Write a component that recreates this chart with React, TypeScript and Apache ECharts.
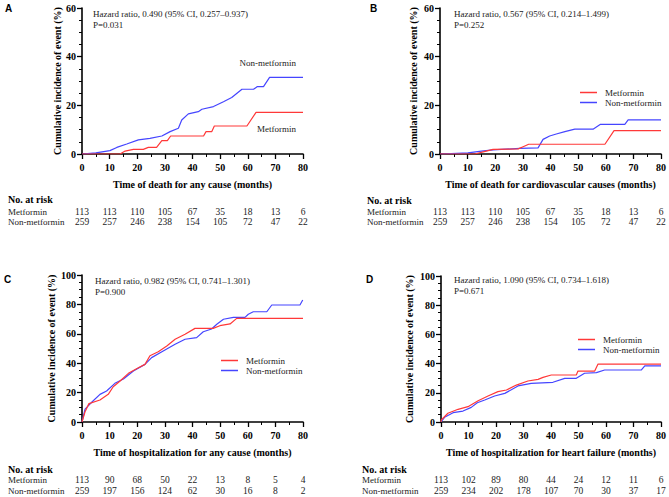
import React, { useEffect, useRef } from "react";
import * as echarts from "echarts";

// ---------- data ----------
const timeTicks = [0, 10, 20, 30, 40, 50, 60, 70, 80];

// Panel A: death for any cause
const aMetformin: [number, number][] = [
  [0, 0], [13.8, 0], [15.6, 1.2], [18.6, 1.9], [22.2, 1.9], [24, 2.7], [27, 2.7], [28.9, 5.5], [30.9, 5.5],
  [32.1, 7.4], [44, 7.4], [44.9, 9.2], [47, 9.2], [47.9, 11.5], [59.7, 11.5], [63, 17.1], [80, 17.1],
];
const aNonMetformin: [number, number][] = [
  [0, 0], [5, 0.5], [10.1, 1.4], [12.6, 2.7], [16.2, 4.1], [20.4, 5.8], [24.6, 6.4], [28.9, 7.4], [31.9, 9.2],
  [34.9, 10.6], [36.1, 14], [38.5, 16.5], [42.1, 17.4], [43.4, 18.4], [47.6, 19.5], [51.2, 21.5], [54.2, 23.2],
  [57.9, 26.6], [62.1, 26.6], [63.5, 27.7], [65.7, 27.7], [67.9, 31.5], [80, 31.5],
];
// Panel B: death for cardiovascular causes
const bMetformin: [number, number][] = [
  [0, 0], [12.6, 0], [16, 1], [19.2, 1.9], [28.3, 2.1], [30.1, 3], [32.1, 4], [59.7, 4], [63, 9.6], [80, 9.6],
];
const bNonMetformin: [number, number][] = [
  [0, 0], [10.1, 0.5], [15, 1.2], [19.2, 1.7], [28.9, 2.3], [35.5, 2.5], [37.3, 6], [39.7, 7.4], [42.1, 8.2],
  [45.2, 9.2], [48.8, 10.2], [55.4, 10.2], [58.1, 12.2], [66.9, 12.2], [68.1, 14], [80, 14],
];
// Panel C: hospitalization for any cause
const cMetformin: [number, number][] = [
  [0, 0], [1.1, 7], [2.5, 12.5], [6.5, 15], [9.5, 18.8], [11.3, 24], [13.8, 27.9], [16.8, 33.1], [20.4, 36.9],
  [22.8, 39.2], [24.6, 45.1], [27.6, 47.8], [30.7, 51.7], [33.7, 56.3], [37.3, 59.7], [40.9, 63.7], [47.5, 63.7],
  [49.9, 65.5], [53.6, 66.7], [56, 70.5], [80, 70.5],
];
const cNonMetformin: [number, number][] = [
  [0, 0], [1.1, 8.8], [3.5, 13.4], [6.5, 18.8], [8.9, 21.1], [11.9, 26.3], [15, 29.3], [18.6, 34.7], [22.8, 39.2],
  [25.2, 43.8], [29.4, 48.3], [33.7, 52.9], [37.3, 56.3], [41.5, 57.4], [43.9, 61.4], [46.9, 63.3], [48.8, 66.5],
  [51.2, 69.9], [54.8, 71.2], [59, 71.2], [60.2, 73.3], [62, 75], [66.9, 75], [68.7, 79.6], [78.9, 79.6], [79.9, 83],
];
// Panel D: hospitalization for heart failure
const dMetformin: [number, number][] = [
  [0, 0], [0.1, 1.4], [2.5, 6], [6.2, 8.7], [9.8, 10.5], [13.5, 14.6], [17.1, 17.8], [20.7, 20.8], [23.8, 21.9],
  [27.4, 25.3], [31.6, 28.1], [35.3, 29.2], [37.1, 30.6], [40.1, 32.2], [49.2, 32.2], [49.8, 34.9], [55.9, 34.9],
  [57.1, 39.7], [80, 39.7],
];
const dNonMetformin: [number, number][] = [
  [0, 0], [1.3, 3.2], [4.4, 6.4], [8, 7.5], [11, 10], [13.2, 13.2], [15.9, 15.1], [19.5, 17.8], [23.2, 19.6],
  [28, 24.7], [32.8, 26.5], [40.7, 27.2], [45, 29.9], [49.2, 29.9], [52.2, 33.4], [56.5, 33.8], [59.5, 35.6],
  [72.8, 35.6], [74.1, 38.4], [80, 38.4],
];

// Numbers at risk
const riskDeathMetformin = [113, 113, 110, 105, 67, 35, 18, 13, 6];
const riskDeathNonMetformin = [259, 257, 246, 238, 154, 105, 72, 47, 22];
const riskHospMetformin = [113, 90, 68, 50, 22, 13, 8, 5, 4];
const riskHospNonMetformin = [259, 197, 156, 124, 62, 30, 16, 8, 2];
const riskHfMetformin = [113, 102, 89, 80, 44, 24, 12, 11, 6];
const riskHfNonMetformin = [259, 234, 202, 178, 107, 70, 30, 37, 17];

const panelLetters = ["A", "B", "C", "D"];
const xTitles = [
  "Time of death for any cause (months)",
  "Time of death for cardiovascular causes (months)",
  "Time of hospitalization for any cause (months)",
  "Time of hospitalization for heart failure (months)",
];
const hazardTexts = [
  "Hazard ratio, 0.490 (95% CI, 0.257\u20130.937)",
  "Hazard ratio, 0.567 (95% CI, 0.214\u20131.499)",
  "Hazard ratio, 0.982 (95% CI, 0.741\u20131.301)",
  "Hazard ratio, 1.090 (95% CI, 0.734\u20131.618)",
];
const pTexts = ["P=0.031", "P=0.252", "P=0.900", "P=0.671"];
const yMaxes = [60, 60, 100, 100];
const seriesNames = ["Metformin", "Non-metformin"];

// ---------- styling ----------
const RED = "#FF3838";
const BLUE = "#4545FF";
const SERIF = "Liberation Serif";
const SANS = "Liberation Sans";

const grids = [
  { left: 82, top: 8, width: 221, height: 146 },
  { left: 440, top: 8, width: 221, height: 146 },
  { left: 82, top: 275, width: 221, height: 147 },
  { left: 441, top: 276, width: 220, height: 146 },
];
const yNameGaps = [20, 22, 26, 27];
const xNameGaps = [25, 25, 25, 25];
const letterPos = [[5, 3], [370, 3], [4, 274], [366, 274]];
const hazardPos = [[93, 14], [454, 14], [95, 281], [454, 280]];
const riskLayout = [
  { labelX: 8, headY: 199, rowY: [212, 222] },
  { labelX: 367, headY: 200, rowY: [212, 222] },
  { labelX: 8, headY: 469, rowY: [480, 490.5] },
  { labelX: 362, headY: 469, rowY: [480, 490.5] },
];

export default function App() {
  const ref = useRef<HTMLDivElement>(null);

  useEffect(() => {
    if (!ref.current) return;
    const chart = echarts.init(ref.current, undefined, { renderer: "svg" });

    const panelData = [
      [aMetformin, aNonMetformin],
      [bMetformin, bNonMetformin],
      [cMetformin, cNonMetformin],
      [dMetformin, dNonMetformin],
    ];
    const riskData = [
      [riskDeathMetformin, riskDeathNonMetformin],
      [riskDeathMetformin, riskDeathNonMetformin],
      [riskHospMetformin, riskHospNonMetformin],
      [riskHfMetformin, riskHfNonMetformin],
    ];

    const axisLine = { show: true, lineStyle: { color: "#000", width: 1.6 } };
    const axisTick = { show: true, length: 5, lineStyle: { color: "#000", width: 1.3 } };
    const labelStyle = { fontFamily: SERIF, fontWeight: "bold" as const, fontSize: 10, color: "#000" };

    const xAxis = grids.map((_, i) => ({
      type: "value" as const,
      gridIndex: i,
      min: 0,
      max: 80,
      interval: 10,
      axisLine,
      axisTick,
      minorTick: { show: true, splitNumber: 2, length: 3, lineStyle: { color: "#000", width: 1 } },
      splitLine: { show: false },
      axisLabel: { ...labelStyle, margin: 8 },
      name: xTitles[i],
      nameLocation: "middle" as const,
      nameGap: xNameGaps[i],
      nameTextStyle: { ...labelStyle },
    }));
    const yAxis = grids.map((_, i) => ({
      type: "value" as const,
      gridIndex: i,
      min: 0,
      max: yMaxes[i],
      interval: 20,
      axisLine,
      axisTick,
      minorTick: { show: true, splitNumber: 4, length: 3, lineStyle: { color: "#000", width: 1 } },
      splitLine: { show: false },
      axisLabel: { ...labelStyle, margin: 6 },
      name: "Cumulative incidence of event (%)",
      nameLocation: "middle" as const,
      nameGap: yNameGaps[i],
      nameRotate: 90,
      nameTextStyle: { ...labelStyle },
    }));

    const series: any[] = [];
    panelData.forEach((pair, i) => {
      pair.forEach((data, k) => {
        const color = k === 0 ? RED : BLUE;
        series.push({
          type: "line",
          name: seriesNames[k],
          xAxisIndex: i,
          yAxisIndex: i,
          data,
          showSymbol: false,
          symbol: "none",
          lineStyle: { color, width: 1.2 },
          itemStyle: { color },
          z: k === 0 ? 3 : 2,
        });
      });
    });

    const legendBase = {
      orient: "vertical" as const,
      data: seriesNames,
      icon: "rect",
      itemWidth: 17,
      itemHeight: 1.5,
      itemGap: 1,
      selectedMode: false,
      textStyle: { fontFamily: SERIF, fontSize: 9, color: "#222", padding: [0, 0, 0, 3] },
    };

    chart.setOption({
      animation: false,
      backgroundColor: "#fff",
      grid: grids.map((g) => ({ ...g, containLabel: false })),
      xAxis,
      yAxis,
      series,
      legend: [
        { ...legendBase, left: 575, top: 83 },
        { ...legendBase, left: 216, top: 351 },
        { ...legendBase, left: 573, top: 330 },
      ],
    });

    const graphic: any[] = [];
    const txt = (text: string, x: number, y: number, opts: any = {}) => ({
      type: "text",
      x,
      y,
      silent: true,
      style: {
        text,
        fontFamily: SERIF,
        fontSize: 9,
        fill: "#222",
        align: "left",
        verticalAlign: "middle",
        ...opts,
      },
    });

    for (let i = 0; i < 4; i++) {
      graphic.push(
        txt(panelLetters[i], letterPos[i][0], letterPos[i][1], {
          fontFamily: SANS,
          fontWeight: "bold",
          fontSize: 10,
          fill: "#000",
          verticalAlign: "top",
        })
      );
      graphic.push(txt(hazardTexts[i], hazardPos[i][0], hazardPos[i][1]));
      graphic.push(txt(pTexts[i], hazardPos[i][0], hazardPos[i][1] + 10.5));

      const rl = riskLayout[i];
      graphic.push(txt("No. at risk", rl.labelX, rl.headY, { fontWeight: "bold", fontSize: 10, fill: "#000" }));
      seriesNames.forEach((nm, k) => {
        graphic.push(txt(nm, rl.labelX, rl.rowY[k]));
        riskData[i][k].forEach((v, j) => {
          const px = chart.convertToPixel({ xAxisIndex: i }, timeTicks[j]) as number;
          graphic.push(txt(String(v), px, rl.rowY[k], { align: "center", fontSize: 9.5 }));
        });
      });
    }
    // in-plot curve labels for panel A
    graphic.push(txt("Non-metformin", 296, 63, { align: "right" }));
    graphic.push(txt("Metformin", 296, 129, { align: "right" }));

    chart.setOption({ graphic });

    return () => chart.dispose();
  }, []);

  return (
    <div
      ref={ref}
      style={{ position: "fixed", left: 0, top: 0, width: 669, height: 497, background: "#fff" }}
    />
  );
}
